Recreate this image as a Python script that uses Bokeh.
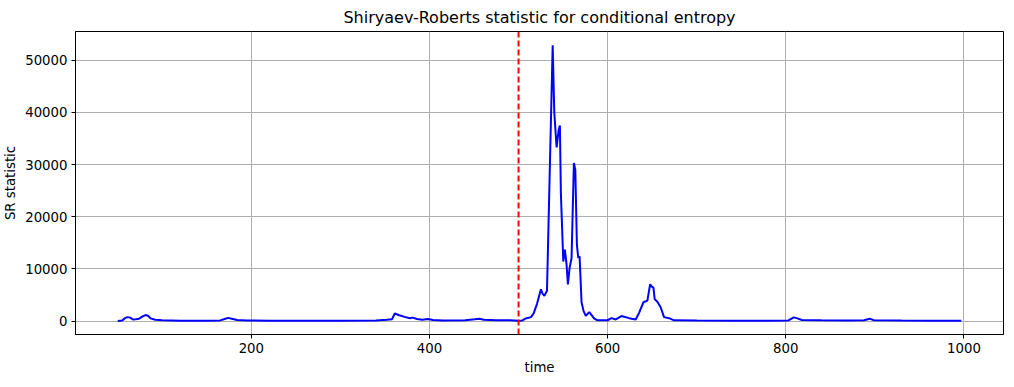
from bokeh.plotting import figure
from bokeh.models import Span, FixedTicker, Range1d, BasicTickFormatter
from bokeh.embed import file_html
from bokeh.resources import INLINE

time = [50, 55, 58, 61, 64, 67, 70, 74, 78, 81, 84, 87, 92, 100, 120, 150, 165, 171, 174, 178,
        184, 195, 220, 260, 300, 340, 352, 358, 361, 366, 372, 378, 381, 386, 392, 398, 404, 415,
        440, 451, 456, 461, 475, 490, 500, 504, 508, 514, 517, 520.7, 525.1, 527, 529, 531.9,
        538.3, 540.1, 542.7, 545, 546.4, 547.5, 550.2, 552, 553.9, 555.4, 557.3, 559.5, 562.1,
        563.7, 565.5, 567, 568.5, 570.7, 573, 575.5, 579.4, 585, 588.6, 599.8, 604.3, 609.1,
        615.5, 624.1, 631.5, 635.3, 640.2, 644.6, 647.7, 649.5, 651.4, 652.8, 655.8, 659.5,
        663.3, 669, 674.5, 700, 740, 780, 803, 809, 813, 818, 840, 870, 888, 894, 899, 930, 960, 997]
sr = [20, 80, 550, 750, 650, 300, 350, 450, 900, 1150, 1000, 500, 250, 150, 60, 40, 120, 450, 600, 450,
      200, 100, 50, 30, 30, 80, 250, 350, 1450, 1100, 800, 550, 650, 400, 250, 400, 180, 120,
      150, 350, 450, 250, 150, 130, 60, 80, 500, 750, 1500, 3300, 6100, 5200, 4850, 5800,
      52900, 40000, 33300, 36600, 37500, 24500, 11400, 13700, 10800, 7000, 10200, 12100, 30300,
      29000, 14600, 12100, 12400, 3600, 1900, 1000, 1700, 450, 150, 150, 550, 300,
      950, 550, 300, 1570, 3600, 3900, 7050, 6600, 6400, 4200, 3700, 2650,
      750, 550, 130, 80, 60, 50, 120, 700, 500, 200, 150, 100, 150, 450, 150, 80, 60, 30]

change_point = 500
x_ticks = [200, 400, 600, 800, 1000]
y_ticks = [0, 10000, 20000, 30000, 40000, 50000]

FONT = "DejaVu Sans"

p = figure(frame_width=928, frame_height=303, output_backend="svg", toolbar_location=None,
           x_range=Range1d(2.6, 1044.4), y_range=Range1d(-2585, 55528),
           title="Shiryaev-Roberts statistic for conditional entropy",
           min_border_left=69, min_border_right=1, min_border_top=27, min_border_bottom=41)

p.title.align = "center"
p.title.text_font = FONT
p.title.text_font_size = "16px"
p.title.text_font_style = "normal"
p.title.text_color = "black"

p.line(time, sr, line_color="blue", line_width=2)
p.add_layout(Span(location=change_point, dimension="height", line_color="red",
                  line_dash="6 3", line_width=2))

p.xaxis.ticker = FixedTicker(ticks=x_ticks)
p.yaxis.ticker = FixedTicker(ticks=y_ticks)
p.yaxis.formatter = BasicTickFormatter(use_scientific=False)
p.xaxis.axis_label = "time"
p.yaxis.axis_label = "SR statistic"

for ax in (p.xaxis, p.yaxis):
    ax.axis_label_text_font = FONT
    ax.axis_label_text_font_size = "13.3px"
    ax.axis_label_text_font_style = "normal"
    ax.axis_label_text_color = "black"
    ax.major_label_text_font = FONT
    ax.major_label_text_font_size = "13.3px"
    ax.major_label_text_color = "black"
    ax.minor_tick_line_color = None
    ax.major_tick_in = 0
    ax.major_tick_out = 4
    ax.major_tick_line_color = "black"
    ax.axis_line_color = "black"
    ax.major_label_standoff = 4
    ax.axis_label_standoff = 4

p.grid.grid_line_color = "#b0b0b0"
p.grid.grid_line_width = 1
p.outline_line_color = "black"
p.outline_line_width = 1
p.outline_line_alpha = 1
p.background_fill_color = "white"
p.border_fill_color = "white"

open("out.html", "w").write(file_html(p, INLINE))
